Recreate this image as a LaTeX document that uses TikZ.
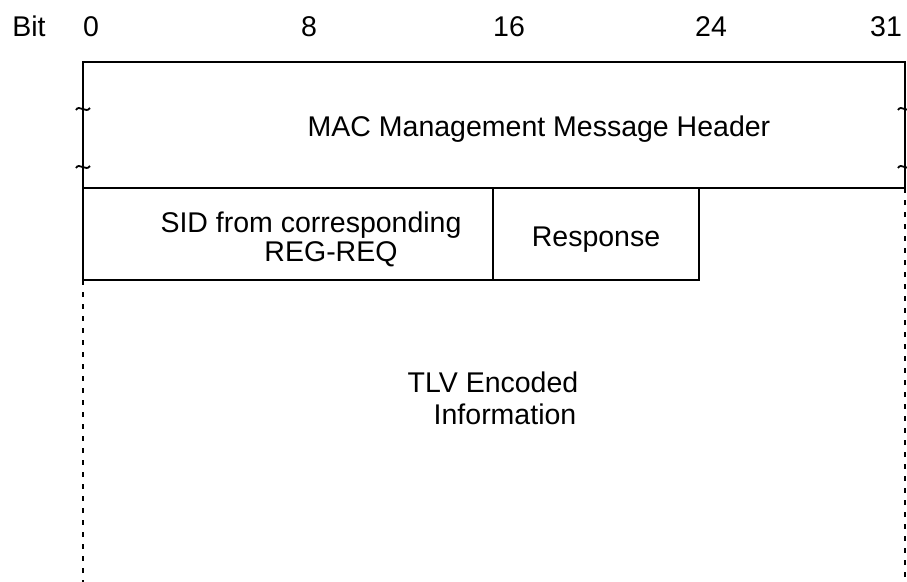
\documentclass[tikz,border=0pt]{standalone}
\usepackage{fontspec}
\setmainfont{Liberation Sans}
\begin{document}
\begin{tikzpicture}[x=1pt,y=-1pt,
  box/.style={draw=black,line width=1.9pt},
  lbl/.style={font=\fontsize{28.5}{33}\selectfont,inner sep=0pt,anchor=base},
  dotline/.style={line width=2.8pt,dash pattern=on 5pt off 7pt},
  tild/.style={line width=1.8pt}]
\useasboundingbox (0,0) rectangle (907,581);
% bit labels
\node[lbl] (bit) at (29,36) {Bit};
\node[lbl] (b0) at (91,36) {0};
\node[lbl] (b8) at (309,36) {8};
\node[lbl] (b16) at (509,36) {16};
\node[lbl] (b24) at (711,36) {24};
\node[lbl] (b31) at (886,36) {31};
% header
\coordinate (hTL) at (83,62);
\coordinate (hBR) at (905,188);
\draw[box] (hTL) rectangle (hBR);
\node[lbl] (mac) at (539,136) {MAC Management Message Header};
% tildes
\foreach \yy in {109,167}{
  \draw[tild] (76,\yy+1) .. controls (79,\yy-5) and (86,\yy+5) .. (90,\yy-1);
  \draw[tild] (898,\yy+1) .. controls (901,\yy-5) and (908,\yy+5) .. (912,\yy-1);
}
% second row
\coordinate (sTL) at (83,188);
\coordinate (sBR) at (493,280);
\coordinate (rBR) at (699,280);
\draw[box] (sTL) rectangle (sBR);
\draw[box] (sBR |- sTL) rectangle (rBR);
\node[lbl] (sid1) at (311,232) {SID from corresponding};
\node[lbl] (sid2) at (331,261) {REG-REQ};
\node[lbl] (resp) at (596,246) {Response};
% dotted sides
\coordinate (dl1) at (83,280);
\coordinate (dl2) at (83,585);
\coordinate (dr1) at (905,188);
\coordinate (dr2) at (905,585);
\draw[dotline] (dl1) -- (dl2);
\draw[dotline] (dr1) -- (dr2);
\node[lbl] (tlv1) at (493,392) {TLV Encoded};
\node[lbl] (tlv2) at (505,424) {Information};
\end{tikzpicture}
\end{document}
